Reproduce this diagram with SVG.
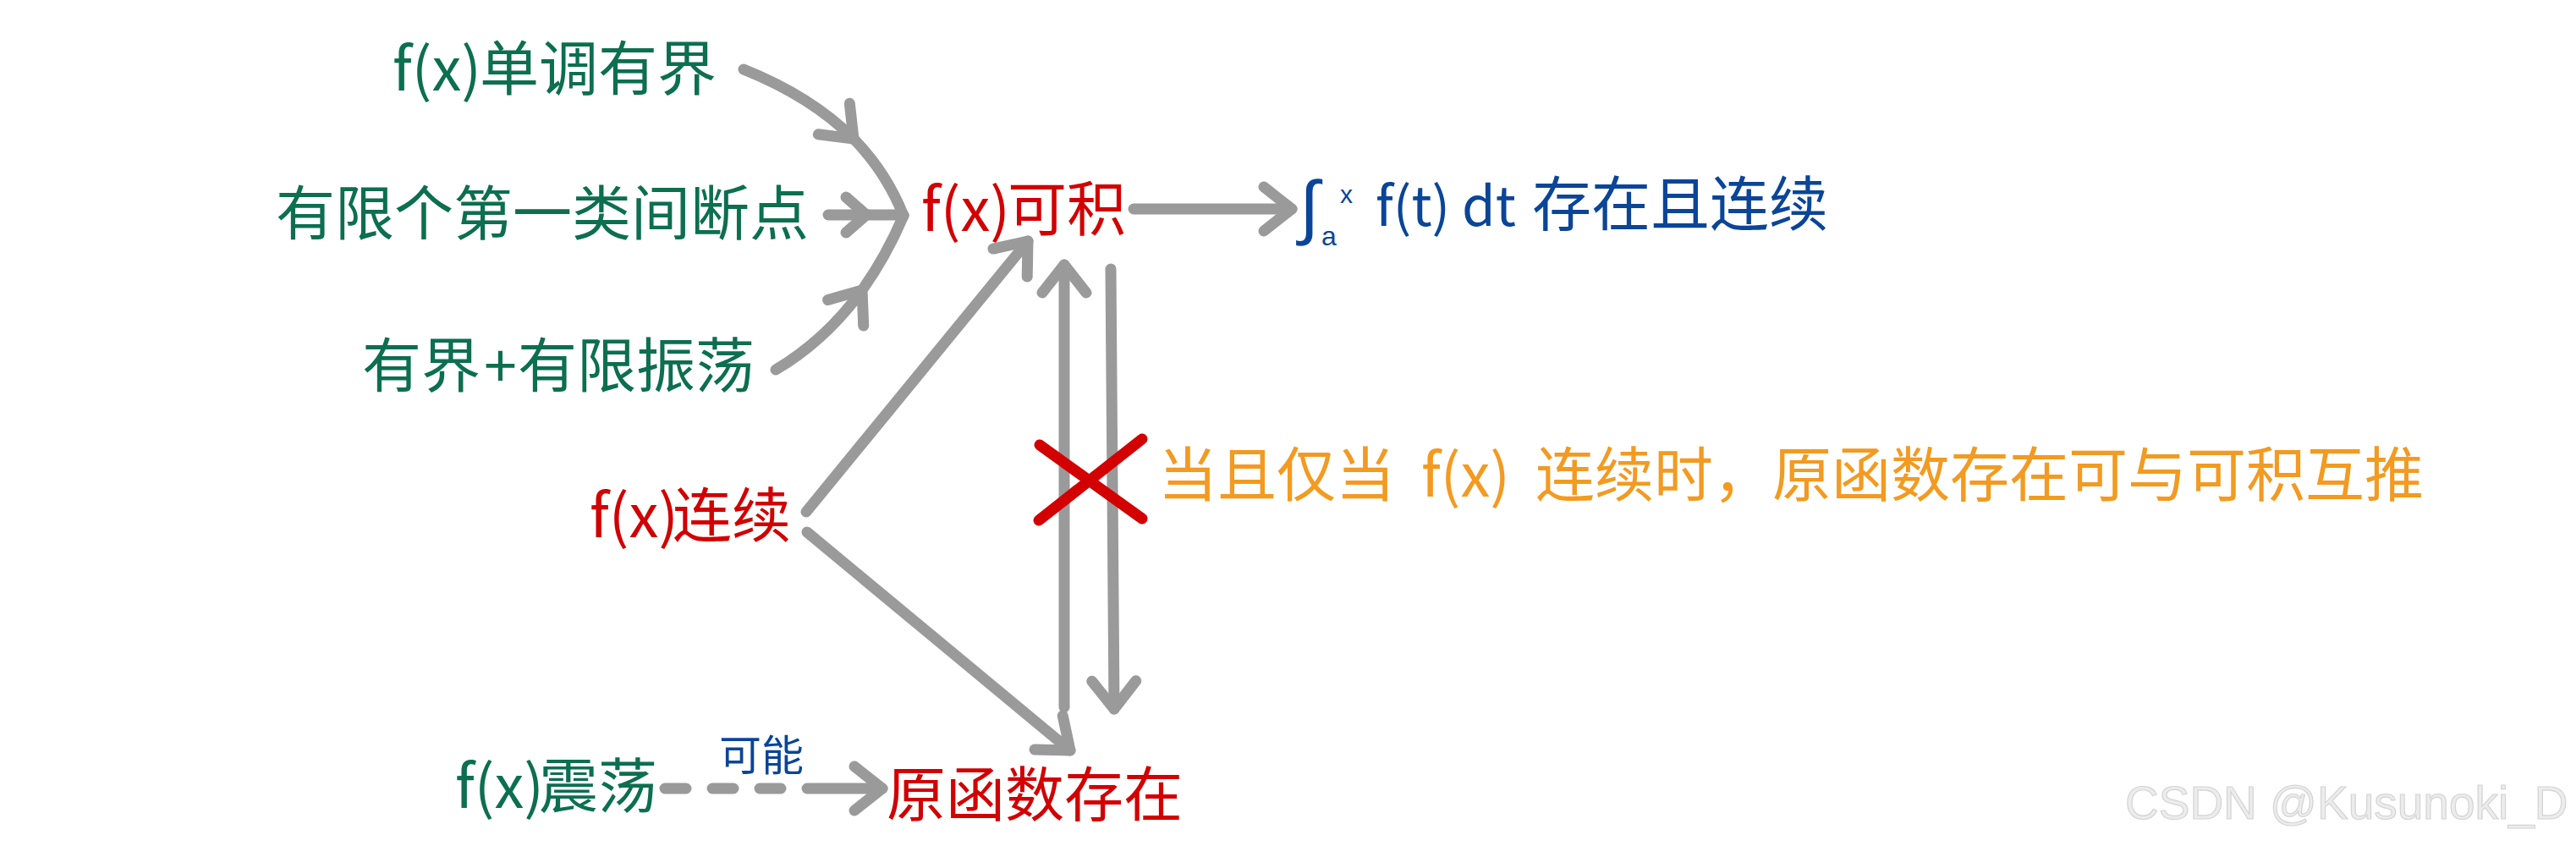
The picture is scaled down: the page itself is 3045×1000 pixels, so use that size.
<svg xmlns="http://www.w3.org/2000/svg" width="3045" height="1000" viewBox="0 0 3045 1000">
<defs>
<style>
.t{font-family:"Noto Sans CJK SC","Noto Sans",sans-serif;font-size:70px}
.g{fill:#0C6F4F}
.r{fill:#D20000}
.b{fill:#0A4598}
.o{fill:#F39A20}
.c{fill:none;stroke:#9a9a9a;stroke-width:13;stroke-linecap:round;stroke-linejoin:round}
.mid{marker-mid:url(#chev)}
.end{marker-end:url(#chev)}
.x{fill:none;stroke:#D20000;stroke-width:13;stroke-linecap:round}
.wm{font-family:"Liberation Sans",Arial,sans-serif;font-size:55px;fill:#ececec;stroke:#d4d4d4;stroke-width:1.2}
.m{font-family:"Liberation Sans",Arial,sans-serif}
</style>
<marker id="chev" markerUnits="userSpaceOnUse" orient="auto" markerWidth="100" markerHeight="100" viewBox="-50 -50 100 100" refX="0" refY="0" overflow="visible">
<path d="M-33,-26 L0,0 L-33,26" fill="none" stroke="#9a9a9a" stroke-width="13" stroke-linecap="round" stroke-linejoin="round"/>
</marker>
<marker id="chev-s" markerUnits="userSpaceOnUse" orient="auto" markerWidth="100" markerHeight="100" viewBox="-50 -50 100 100" refX="0" refY="0" overflow="visible">
<path d="M-24,-21 L0,0 L-24,21" fill="none" stroke="#9a9a9a" stroke-width="13" stroke-linecap="round" stroke-linejoin="round"/>
</marker>
</defs>
<rect width="3045" height="1000" fill="#ffffff"/>

<g id="connectors">
<path class="c mid" d="M879,82 Q959,114 1009,164 Q1048,204 1068,255"/>
<path class="c" style="marker-mid:url(#chev-s)" d="M979,254 L1024,254 L1068,254"/>
<path class="c mid" d="M917,437 Q976,402 1019,343 Q1047,304 1068,255"/>
<path class="c end" d="M1340,247 L1527,247"/>
<path class="c end" d="M953,605 L1215,285"/>
<path class="c end" d="M954,629 L1265,887"/>
<path class="c end" d="M1258,836 L1258,313"/>
<path class="c end" d="M1313,318 L1317,838"/>
<path class="c end" stroke-dasharray="25 31 25 31 25 31 100 1000" d="M786,932 L1043,932"/>
<text class="t b" x="850" y="911" style="font-size:50px">可能</text>
</g>

<g id="cross">
<line class="x" x1="1229" y1="526" x2="1350" y2="613"/>
<line class="x" x1="1228" y1="615" x2="1350" y2="519"/>
</g>

<g id="n-monotone"><text class="t g" y="107"><tspan x="464">f(x)</tspan><tspan x="567">单调有界</tspan></text></g>
<g id="n-jumps"><text class="t g" x="326" y="278">有限个第一类间断点</text></g>
<g id="n-bounded"><text class="t g" y="458"><tspan x="428">有界</tspan><tspan x="572">+</tspan><tspan x="612">有限振荡</tspan></text></g>
<g id="n-integrable"><text class="t r" y="273"><tspan x="1089">f(x)</tspan><tspan x="1191">可积</tspan></text></g>
<g id="n-integral">
<text class="m b" x="1536" y="273" style="font-size:84px">∫</text>
<text class="m b" x="1562" y="290" style="font-size:32px">a</text>
<text class="m b" x="1584" y="240" style="font-size:30px">x</text>
<text class="t b" y="267"><tspan x="1626" style="font-size:64px">f(t)</tspan><tspan x="1728" style="font-size:64px">dt</tspan><tspan x="1811">存在且连续</tspan></text>
</g>
<g id="n-continuous"><text class="t r" y="635"><tspan x="697">f(x)</tspan><tspan x="795">连续</tspan></text></g>
<g id="n-note"><text class="t o" y="587"><tspan x="1369">当且仅当</tspan><tspan x="1680">f(x)</tspan><tspan x="1815">连续时，原函数存在可与可积互推</tspan></text></g>
<g id="n-oscillation"><text class="t g" y="955"><tspan x="538">f(x)</tspan><tspan x="637">震荡</tspan></text></g>
<g id="n-antiderivative"><text class="t r" x="1048" y="965">原函数存在</text></g>

<text class="wm" x="2512" y="968">CSDN @Kusunoki_D</text>
</svg>
